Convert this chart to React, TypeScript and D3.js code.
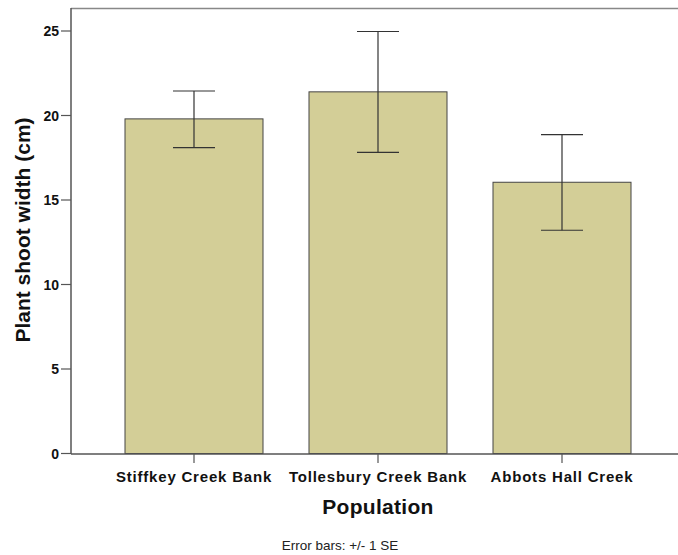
import React from "react";
import * as d3 from "d3";

const categories = ["Stiffkey Creek Bank", "Tollesbury Creek Bank", "Abbots Hall Creek"];
const means = [19.8, 21.4, 16.05];
const errLow = [18.1, 17.82, 13.21];
const errHigh = [21.45, 24.97, 18.87];
const yTicks = [0, 5, 10, 15, 20, 25];

export default function App() {
  const W = 678, H = 555;
  const y = d3.scaleLinear().domain([0, 25]).range([453.5, 31]);
  const x = d3.scaleBand<string>().domain(categories).range([102, 654]).paddingInner(0.25).paddingOuter(0.125);
  const font = "'Liberation Sans', Arial, sans-serif";
  const axisColor = "#555";
  return (
    <svg width={W} height={H} style={{ position: "absolute", left: 0, top: 0, background: "#fff" }} fontFamily={font}>
      {/* frame */}
      <line x1={71} x2={678} y1={8.5} y2={8.5} stroke="#888" strokeWidth={1.5} />
      {/* bars */}
      {categories.map((c, i) => (
        <rect key={c} x={x(c)!} y={y(means[i])} width={x.bandwidth()} height={y(0) - y(means[i])}
          fill="#d3ce97" stroke="#444" strokeWidth={1} />
      ))}
      {/* error bars */}
      {categories.map((c, i) => {
        const cx = x(c)! + x.bandwidth() / 2;
        return (
          <g key={c} stroke="#333" strokeWidth={1.2}>
            <line x1={cx} x2={cx} y1={y(errHigh[i])} y2={y(errLow[i])} />
            <line x1={cx - 21} x2={cx + 21} y1={y(errHigh[i])} y2={y(errHigh[i])} />
            <line x1={cx - 21} x2={cx + 21} y1={y(errLow[i])} y2={y(errLow[i])} />
          </g>
        );
      })}
      {/* y axis */}
      <line x1={71} x2={71} y1={8} y2={454} stroke={axisColor} strokeWidth={1.5} />
      {yTicks.map(t => (
        <g key={t}>
          <line x1={61} x2={71} y1={y(t)} y2={y(t)} stroke={axisColor} strokeWidth={1.2} />
          <text x={59} y={y(t)} dy="0.38em" textAnchor="end" fontSize={14} fontWeight="bold" fill="#111">{t}</text>
        </g>
      ))}
      {/* x axis */}
      <line x1={71} x2={678} y1={454} y2={454} stroke={axisColor} strokeWidth={1.5} />
      {categories.map(c => {
        const cx = x(c)! + x.bandwidth() / 2;
        return (
          <g key={c}>
            <line x1={cx} x2={cx} y1={454} y2={463} stroke={axisColor} strokeWidth={1.2} />
            <text x={cx} y={482} textAnchor="middle" fontSize={15} fontWeight="bold" letterSpacing={0.8} fill="#111">{c}</text>
          </g>
        );
      })}
      <text x={378} y={514} textAnchor="middle" fontSize={21} fontWeight="bold" letterSpacing={0.3} fill="#111">Population</text>
      <text transform="translate(30,230) rotate(-90)" textAnchor="middle" fontSize={21} fontWeight="bold" fill="#111">Plant shoot width (cm)</text>
      <text x={340} y={550} textAnchor="middle" fontSize={13.5} fill="#222">Error bars: +/- 1 SE</text>
    </svg>
  );
}
